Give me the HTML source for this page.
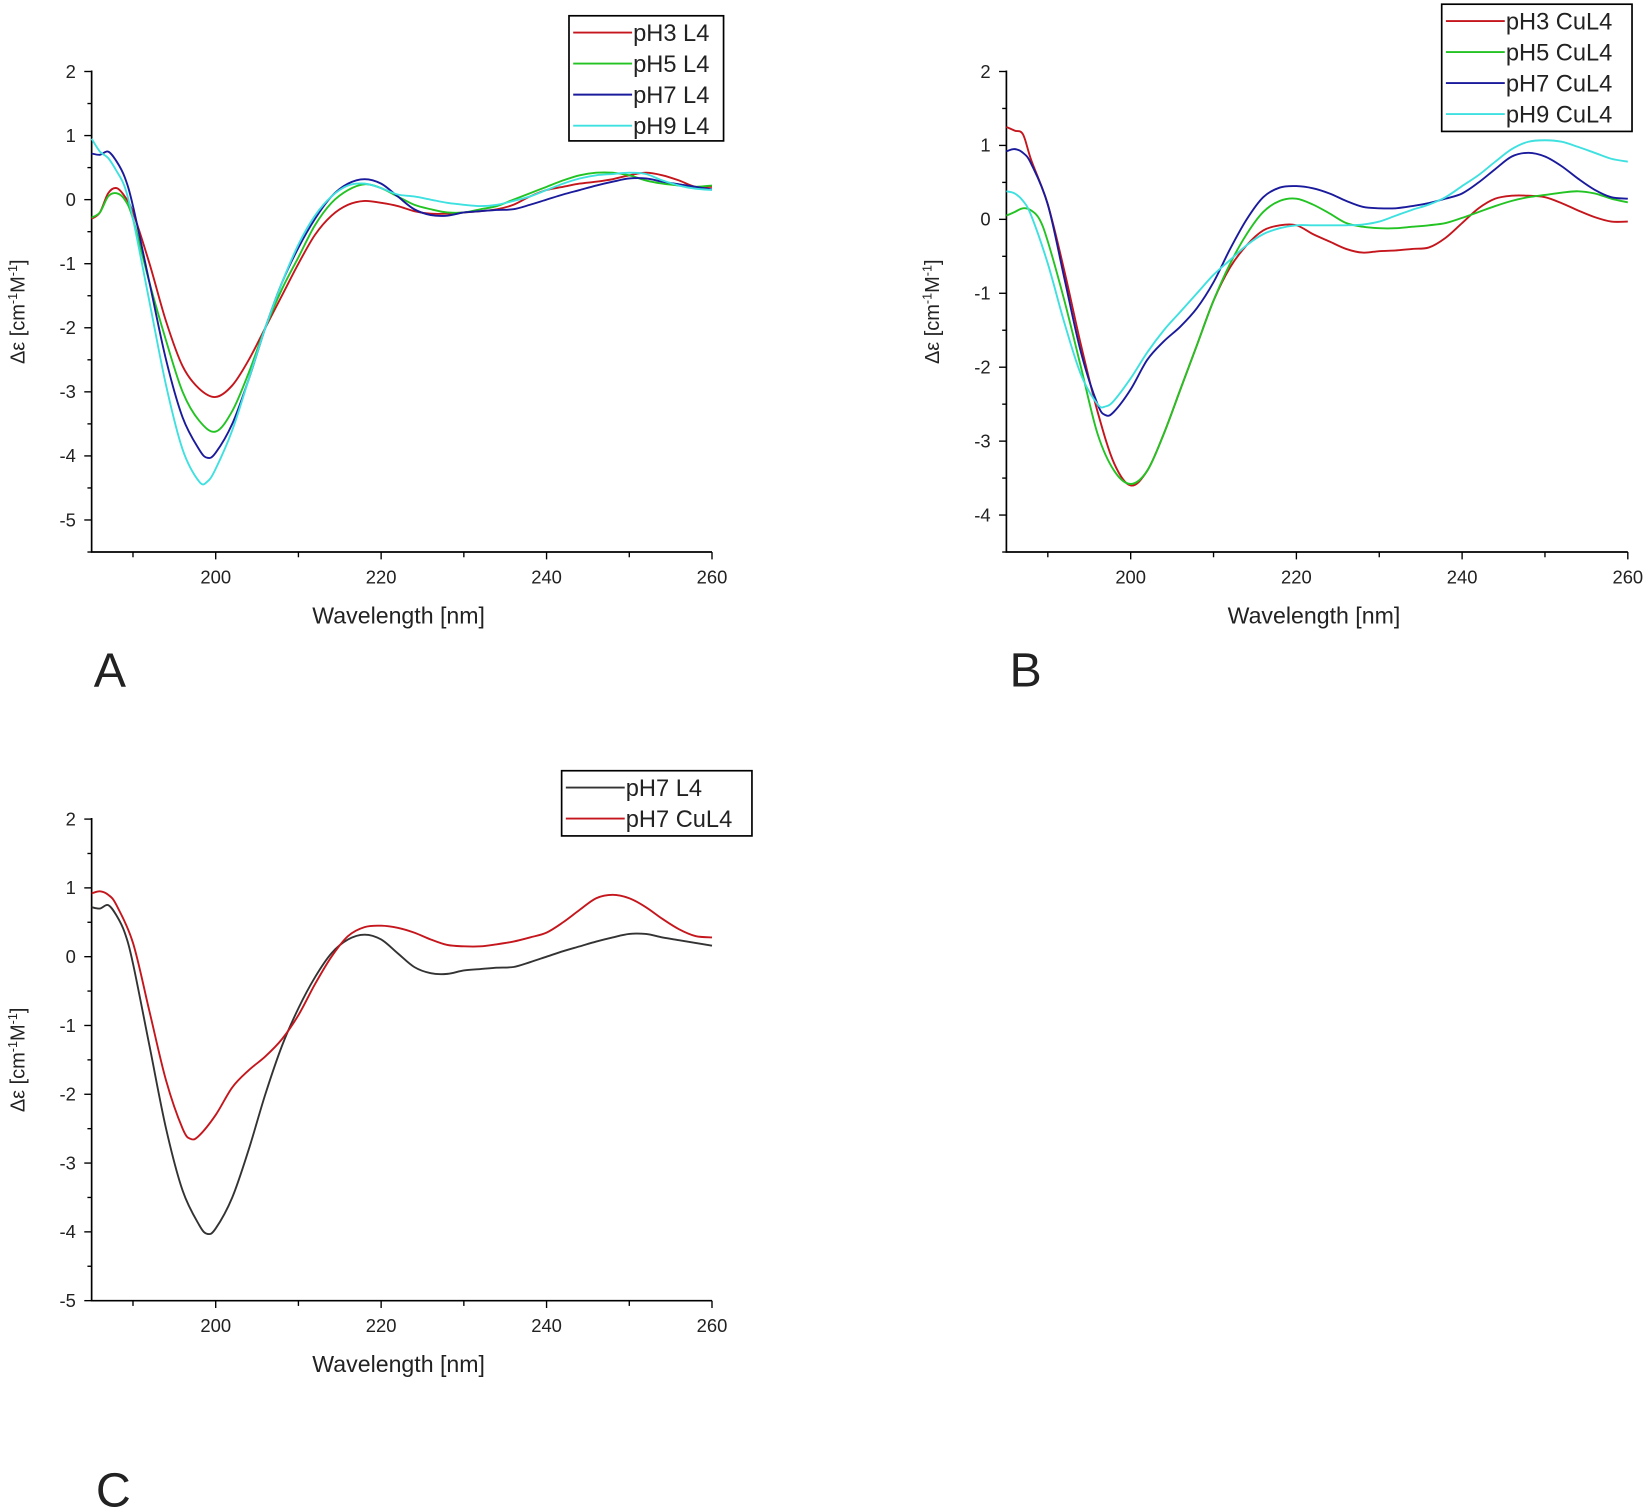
<!DOCTYPE html>
<html><head><meta charset="utf-8"><style>
html,body{margin:0;padding:0;background:#fff;}
svg{display:block;}
text{font-family:"Liberation Sans",Arial,sans-serif;fill:#222;}
</style></head><body>
<svg id="s" width="1649" height="1512" viewBox="0 0 1568 1438" xmlns="http://www.w3.org/2000/svg"></svg>
<script>
const A={
r:[[185,-0.3],[186,-0.2],[187,0.1],[188,0.18],[189,0.05],[190,-0.2],[192,-1],[194,-1.9],[196,-2.6],[198,-2.95],[200,-3.08],[202,-2.9],[204,-2.5],[206,-2.0],[208,-1.5],[210,-1.0],[212,-0.55],[214,-0.25],[216,-0.08],[218,-0.02],[220,-0.05],[222,-0.1],[224,-0.18],[226,-0.22],[228,-0.22],[230,-0.2],[232,-0.18],[234,-0.15],[236,-0.08],[238,0.05],[240,0.15],[242,0.2],[244,0.25],[246,0.28],[248,0.32],[250,0.38],[252,0.42],[254,0.38],[256,0.3],[258,0.2],[260,0.2]],
g:[[185,-0.28],[186,-0.2],[187,0.05],[188,0.1],[189,0.0],[190,-0.3],[192,-1.3],[194,-2.2],[196,-3.0],[198,-3.45],[200,-3.62],[202,-3.3],[204,-2.7],[206,-2.0],[208,-1.4],[210,-0.9],[212,-0.4],[214,-0.05],[216,0.15],[218,0.24],[220,0.18],[222,0.05],[224,-0.08],[226,-0.15],[228,-0.2],[230,-0.2],[232,-0.15],[234,-0.1],[236,0],[238,0.1],[240,0.2],[242,0.3],[244,0.38],[246,0.42],[248,0.42],[250,0.38],[252,0.3],[254,0.25],[256,0.22],[258,0.2],[260,0.22]],
b:[[185,0.72],[186,0.7],[187,0.75],[188,0.6],[189,0.35],[190,-0.1],[192,-1.3],[194,-2.5],[196,-3.4],[198,-3.9],[199,-4.03],[200,-3.95],[202,-3.5],[204,-2.8],[206,-2.0],[208,-1.3],[210,-0.75],[212,-0.3],[214,0.05],[216,0.25],[218,0.32],[220,0.25],[222,0.05],[224,-0.15],[226,-0.24],[228,-0.25],[230,-0.2],[232,-0.18],[234,-0.16],[236,-0.15],[238,-0.08],[240,0.0],[242,0.08],[244,0.15],[246,0.22],[248,0.28],[250,0.33],[252,0.33],[254,0.28],[256,0.24],[258,0.2],[260,0.16]],
c:[[185,0.95],[186,0.75],[187,0.65],[188,0.45],[189,0.2],[190,-0.3],[192,-1.6],[194,-2.9],[196,-3.9],[198,-4.4],[199,-4.4],[200,-4.2],[202,-3.6],[204,-2.8],[206,-2.0],[208,-1.3],[210,-0.7],[212,-0.25],[214,0.05],[216,0.22],[218,0.25],[220,0.18],[222,0.08],[224,0.05],[226,0.0],[228,-0.05],[230,-0.08],[232,-0.1],[234,-0.08],[236,-0.02],[238,0.05],[240,0.15],[242,0.25],[244,0.33],[246,0.38],[248,0.4],[250,0.42],[252,0.4],[254,0.3],[256,0.22],[258,0.17],[260,0.15]]};
const B={
r:[[185,1.25],[186,1.2],[187,1.15],[188,0.8],[190,0.2],[192,-0.7],[194,-1.7],[196,-2.6],[198,-3.3],[200,-3.6],[202,-3.4],[204,-2.9],[206,-2.3],[208,-1.7],[210,-1.1],[212,-0.65],[214,-0.35],[216,-0.15],[218,-0.08],[220,-0.08],[222,-0.2],[224,-0.3],[226,-0.4],[228,-0.45],[230,-0.43],[232,-0.42],[234,-0.4],[236,-0.38],[238,-0.25],[240,-0.05],[242,0.15],[244,0.28],[246,0.32],[248,0.32],[250,0.3],[252,0.22],[254,0.12],[256,0.03],[258,-0.03],[260,-0.03]],
g:[[185,0.05],[186,0.1],[187,0.15],[188,0.12],[189,0.0],[190,-0.3],[192,-1.1],[194,-2.0],[196,-2.9],[198,-3.4],[200,-3.58],[202,-3.4],[204,-2.9],[206,-2.3],[208,-1.7],[210,-1.1],[212,-0.6],[214,-0.2],[216,0.1],[218,0.25],[220,0.28],[222,0.2],[224,0.08],[226,-0.05],[228,-0.1],[230,-0.12],[232,-0.12],[234,-0.1],[236,-0.08],[238,-0.05],[240,0.02],[242,0.1],[244,0.18],[246,0.25],[248,0.3],[250,0.33],[252,0.36],[254,0.38],[256,0.35],[258,0.28],[260,0.23]],
b:[[185,0.92],[186,0.95],[187,0.9],[188,0.75],[190,0.2],[192,-0.8],[194,-1.8],[196,-2.5],[197,-2.65],[198,-2.6],[200,-2.3],[202,-1.9],[204,-1.65],[206,-1.45],[208,-1.2],[210,-0.85],[212,-0.4],[214,0.0],[216,0.3],[218,0.43],[220,0.45],[222,0.42],[224,0.35],[226,0.25],[228,0.17],[230,0.15],[232,0.15],[234,0.18],[236,0.22],[238,0.28],[240,0.35],[242,0.5],[244,0.68],[246,0.85],[248,0.9],[250,0.85],[252,0.72],[254,0.55],[256,0.4],[258,0.3],[260,0.28]],
c:[[185,0.38],[186,0.35],[187,0.25],[188,0.05],[190,-0.6],[192,-1.4],[194,-2.1],[196,-2.5],[197,-2.53],[198,-2.45],[200,-2.15],[202,-1.8],[204,-1.5],[206,-1.25],[208,-1.0],[210,-0.75],[212,-0.55],[214,-0.35],[216,-0.2],[218,-0.12],[220,-0.08],[222,-0.08],[224,-0.08],[226,-0.08],[228,-0.07],[230,-0.03],[232,0.05],[234,0.13],[236,0.2],[238,0.3],[240,0.45],[242,0.6],[244,0.78],[246,0.95],[248,1.05],[250,1.07],[252,1.05],[254,0.98],[256,0.9],[258,0.82],[260,0.78]]};
const COL={r:"#c4161c",g:"#22c322",b:"#1a1a9c",c:"#3fe0e0",k:"#333"};
let out="";
function panel(x0,y0,x1,y1,ymax,ymin,series,legend,lbl,lx,ly){
  const sx=v=>x0+(v-185)/75*(x1-x0);
  const sy=v=>y0+(ymax-v)/(ymax-ymin)*(y1-y0);
  out+=`<path d="M${x0} ${sy(2)-1} V${y1} H${x1}" fill="none" stroke="#000" stroke-width="1.6"/>`;
  for(let w=190;w<=260;w+=10){const X=sx(w);const maj=(w%20==0);out+=`<line x1="${X}" y1="${y1}" x2="${X}" y2="${y1+(maj?7:5)}" stroke="#000" stroke-width="1.3"/>`;
    if(maj)out+=`<text x="${X}" y="${y1+30}" font-size="17.5" text-anchor="middle">${w}</text>`;}
  for(let v=Math.ceil(ymin*2)/2;v<=2.001;v+=0.5){const Y=sy(v);const maj=Math.abs(v-Math.round(v))<1e-6;
    out+=`<line x1="${x0}" y1="${Y}" x2="${x0-(maj?7:4)}" y2="${Y}" stroke="#000" stroke-width="1.3"/>`;
    if(maj)out+=`<text x="${x0-15}" y="${Y+6}" font-size="17.5" text-anchor="end">${Math.round(v)}</text>`;}
  out+=`<text x="${(x0+x1)/2-3}" y="${y1+68}" font-size="22" text-anchor="middle">Wavelength [nm]</text>`;
  const cy=(sy(2)+y1)/2;
  out+=`<text transform="translate(${x0-64},${cy}) rotate(-90)" font-size="19" text-anchor="middle">Δε [cm<tspan dy="-7" font-size="12">-1</tspan><tspan dy="7">M</tspan><tspan dy="-7" font-size="12">-1</tspan><tspan dy="7">]</tspan></text>`;
  for(const [d,c] of series){
    const p=d.map(q=>[sx(q[0]),sy(q[1])]);
    let s=`M${p[0][0]} ${p[0][1]}`;
    for(let i=0;i<p.length-1;i++){const a=p[Math.max(0,i-1)],b=p[i],c2=p[i+1],e=p[Math.min(p.length-1,i+2)];
      s+=`C${b[0]+(c2[0]-a[0])/6} ${b[1]+(c2[1]-a[1])/6} ${c2[0]-(e[0]-b[0])/6} ${c2[1]-(e[1]-b[1])/6} ${c2[0]} ${c2[1]}`;}
    out+=`<path d="${s}" fill="none" stroke="${c}" stroke-width="1.8"/>`;
  }
  const [bx,by,bw,bh,items]=legend;
  out+=`<rect x="${bx}" y="${by}" width="${bw}" height="${bh}" fill="#fff" stroke="#000" stroke-width="1.6"/>`;
  items.forEach((it,i)=>{const Y=by+16+i*29.5;
    out+=`<line x1="${bx+4}" y1="${Y}" x2="${bx+60}" y2="${Y}" stroke="${it[1]}" stroke-width="1.8"/>`;
    out+=`<text x="${bx+61}" y="${Y+8}" font-size="22.5">${it[0]}</text>`;});
  out+=`<text x="${lx}" y="${ly}" font-size="46">${lbl}</text>`;
}
panel(87,68,677,525,2,-5.5,[[A.r,COL.r],[A.g,COL.g],[A.b,COL.b],[A.c,COL.c]],[541,15,147,119,[["pH3 L4",COL.r],["pH5 L4",COL.g],["pH7 L4",COL.b],["pH9 L4",COL.c]]],"A",89,653);
panel(957,68,1548,525,2,-4.5,[[B.r,COL.r],[B.g,COL.g],[B.b,COL.b],[B.c,COL.c]],[1371,4,181,121,[["pH3 CuL4",COL.r],["pH5 CuL4",COL.g],["pH7 CuL4",COL.b],["pH9 CuL4",COL.c]]],"B",960,653);
panel(87,779,677,1237,2,-5,[[A.b,COL.k],[B.b,COL.r]],[534,733,181,62,[["pH7 L4",COL.k],["pH7 CuL4",COL.r]]],"C",91,1433);
document.getElementById("s").innerHTML=out;
</script>
</body></html>
